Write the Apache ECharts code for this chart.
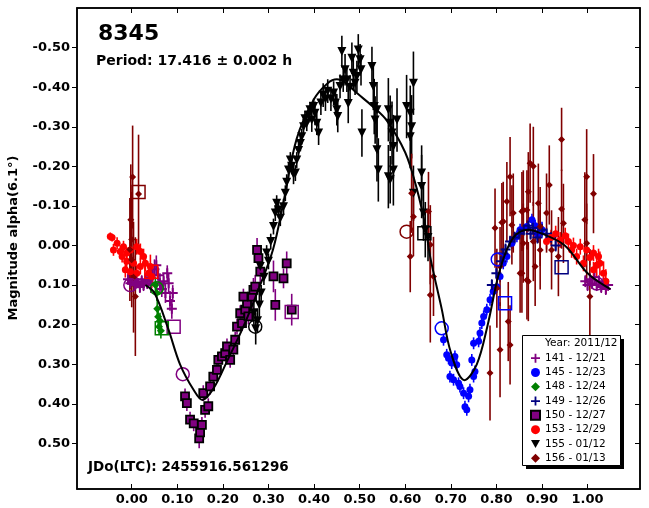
<!DOCTYPE html>
<html><head><meta charset="utf-8">
<script src="https://cdn.jsdelivr.net/npm/echarts@6/dist/echarts.min.js"></script>
<style>html,body{margin:0;padding:0;background:#fff}#c{width:649px;height:508px}</style>
</head><body><div id="c"></div>
<script>
// ---- data: [phase, magnitude, error] ----
const xTicks = [0,0.1,0.2,0.3,0.4,0.5,0.6,0.7,0.8,0.9,1.0];
const yTicks = [-0.5,-0.4,-0.3,-0.2,-0.1,0,0.1,0.2,0.3,0.4,0.5];
const legendNames = ['141 - 12/21','145 - 12/23','148 - 12/24','149 - 12/26','150 - 12/27','153 - 12/29','155 - 01/12','156 - 01/13'];

const s141 = [[-0.008,0.085,0.015],[-0.003,0.095,0.015],[0.002,0.09,0.012],[0.006,0.1,0.015],[0.01,0.085,0.015],[0.014,0.095,0.012],[0.018,0.105,0.015],[0.022,0.09,0.015],[0.026,0.1,0.015],[0.03,0.085,0.015],[0.034,0.095,0.015],[0.038,0.08,0.02],[0.042,0.1,0.02],[0.046,0.075,0.02],[0.05,0.06,0.025],[0.054,0.05,0.025],[0.058,0.075,0.02],[0.062,0.095,0.025],[0.066,0.11,0.02],[0.07,0.09,0.02],[0.074,0.12,0.025],[0.078,0.07,0.02],[0.081,0.095,0.025],[0.084,0.14,0.025],[0.088,0.16,0.025],[0.09,0.12,0.02],
  [0.995,0.09,0.015],[1.0,0.1,0.015],[1.005,0.085,0.015],[1.01,0.095,0.015],[1.015,0.08,0.015],[1.02,0.1,0.015],[1.025,0.09,0.015],[1.03,0.105,0.015],[1.035,0.095,0.015],[1.04,0.11,0.015],[1.045,0.1,0.015]];
const s145 = [[0.684,0.238,0.015],[0.691,0.276,0.015],[0.695,0.285,0.015],[0.702,0.297,0.015],[0.709,0.28,0.015],[0.713,0.301,0.015],[0.698,0.331,0.015],[0.706,0.339,0.015],[0.717,0.348,0.015],[0.72,0.356,0.015],[0.728,0.373,0.015],[0.731,0.407,0.015],[0.735,0.415,0.015],[0.739,0.381,0.015],[0.742,0.364,0.015],[0.75,0.331,0.015],[0.753,0.318,0.015],[0.746,0.289,0.015],[0.75,0.247,0.015],[0.761,0.242,0.015],[0.764,0.221,0.015],[0.768,0.196,0.015],[0.772,0.179,0.015],[0.779,0.162,0.015],[0.786,0.137,0.015],[0.793,0.116,0.015],[0.801,0.104,0.015],[0.808,0.078,0.015],[0.815,0.045,0.015],[0.823,0.028,0.015],[0.834,-0.006,0.015],[0.845,-0.023,0.015],[0.852,-0.04,0.015],[0.867,-0.048,0.015],[0.878,-0.065,0.015],[0.885,-0.05,0.015],[0.89,-0.03,0.015],[0.9,-0.04,0.02]];
const s148 = [[0.052,0.1,0.02],[0.055,0.12,0.02],[0.056,0.16,0.02],[0.058,0.18,0.025],[0.06,0.205,0.02],[0.062,0.19,0.02],[0.064,0.215,0.02]];
const s149 = [[0.79,0.1,0.015],[0.8,0.07,0.015],[0.81,0.04,0.015],[0.815,0.02,0.015],[0.82,0.01,0.015],[0.83,-0.01,0.015],[0.84,-0.02,0.015],[0.85,-0.03,0.015],[0.86,-0.04,0.015],[0.87,-0.05,0.015],[0.875,-0.03,0.015],[0.88,-0.045,0.015],[0.89,-0.02,0.015],[0.9,-0.04,0.015],[0.91,-0.03,0.015],[0.92,-0.02,0.015],[0.93,0.0,0.015]];
const s150 = [[0.117,0.381,0.02],[0.121,0.398,0.02],[0.128,0.44,0.02],[0.136,0.449,0.02],[0.148,0.487,0.025],[0.15,0.472,0.02],[0.154,0.453,0.02],[0.161,0.415,0.02],[0.168,0.406,0.02],[0.157,0.373,0.02],[0.172,0.356,0.02],[0.179,0.331,0.02],[0.187,0.314,0.02],[0.19,0.289,0.02],[0.198,0.28,0.02],[0.205,0.272,0.02],[0.209,0.255,0.02],[0.216,0.289,0.02],[0.223,0.263,0.02],[0.227,0.238,0.02],[0.231,0.205,0.02],[0.238,0.171,0.02],[0.242,0.196,0.02],[0.249,0.162,0.02],[0.253,0.146,0.02],[0.256,0.179,0.02],[0.245,0.129,0.02],[0.264,0.129,0.03],[0.267,0.112,0.03],[0.271,0.104,0.03],[0.275,0.011,0.03],[0.278,0.032,0.03],[0.282,0.066,0.03],[0.311,0.078,0.04],[0.333,0.083,0.025],[0.315,0.15,0.04],[0.34,0.045,0.03],[0.351,0.162,0.04]];
const s153 = [[-0.047,-0.023,0.01],[-0.043,-0.02,0.01],[-0.04,0.011,0.015],[-0.032,-0.006,0.015],[-0.025,0.015,0.015],[-0.021,0.028,0.015],[-0.018,0.003,0.015],[-0.014,0.061,0.02],[-0.011,0.019,0.015],[-0.011,0.04,0.02],[-0.003,0.011,0.02],[-0.003,0.066,0.02],[0.004,0.045,0.02],[0.011,0.003,0.02],[0.011,0.07,0.02],[0.019,0.015,0.02],[0.019,0.053,0.02],[0.026,0.028,0.02],[0.03,0.045,0.02],[0.037,0.07,0.02],[0.041,0.053,0.03],[0.044,0.078,0.03],
  [0.91,-0.01,0.02],[0.92,-0.02,0.02],[0.93,-0.03,0.02],[0.94,-0.014,0.02],[0.951,-0.025,0.02],[0.958,-0.01,0.02],[0.965,0.011,0.02],[0.969,0.0,0.02],[0.976,0.028,0.02],[0.984,0.003,0.02],[0.991,0.045,0.02],[0.998,0.011,0.02],[1.005,0.03,0.02],[1.013,0.019,0.02],[1.013,0.061,0.02],[1.02,0.05,0.03],[1.024,0.028,0.02],[1.027,0.045,0.03],[1.035,0.07,0.03],[1.04,0.09,0.03]];
const s155 = [[0.268,0.17,0.03],[0.272,0.21,0.04],[0.276,0.19,0.03],[0.28,0.15,0.03],[0.284,0.12,0.02],[0.282,0.053,0.02],[0.29,0.08,0.02],[0.296,0.019,0.02],[0.3,0.04,0.02],[0.305,-0.01,0.02],[0.311,-0.048,0.02],[0.315,-0.082,0.02],[0.318,-0.107,0.02],[0.322,-0.09,0.02],[0.326,-0.069,0.02],[0.333,-0.098,0.02],[0.337,-0.132,0.02],[0.34,-0.16,0.02],[0.344,-0.191,0.02],[0.348,-0.216,0.02],[0.351,-0.2,0.02],[0.355,-0.18,0.025],[0.359,-0.183,0.02],[0.362,-0.216,0.02],[0.366,-0.24,0.02],[0.37,-0.258,0.02],[0.373,-0.275,0.02],[0.377,-0.3,0.02],[0.38,-0.32,0.02],[0.384,-0.309,0.02],[0.388,-0.33,0.02],[0.391,-0.343,0.02],[0.395,-0.317,0.03],[0.399,-0.351,0.02],[0.402,-0.334,0.03],[0.406,-0.309,0.03],[0.41,-0.284,0.03],[0.415,-0.36,0.03],[0.42,-0.38,0.03],[0.425,-0.37,0.03],[0.43,-0.39,0.03],
  [0.437,-0.37,0.03],[0.443,-0.385,0.03],[0.447,-0.36,0.03],[0.45,-0.343,0.04],[0.452,-0.326,0.04],[0.457,-0.402,0.03],[0.461,-0.49,0.04],[0.464,-0.418,0.03],[0.468,-0.444,0.04],[0.472,-0.418,0.03],[0.475,-0.359,0.05],[0.479,-0.4,0.03],[0.483,-0.473,0.04],[0.486,-0.435,0.04],[0.49,-0.41,0.03],[0.494,-0.427,0.04],[0.497,-0.494,0.04],[0.501,-0.469,0.04],[0.503,-0.444,0.04],[0.505,-0.284,0.06],
  [0.527,-0.452,0.05],[0.53,-0.402,0.06],[0.532,-0.351,0.07],[0.534,-0.317,0.06],[0.538,-0.343,0.07],[0.538,-0.242,0.08],[0.541,-0.191,0.08],[0.563,-0.343,0.08],[0.567,-0.309,0.07],[0.571,-0.284,0.08],[0.574,-0.25,0.08],[0.563,-0.174,0.08],[0.574,-0.191,0.09],[0.582,-0.317,0.08],[0.567,-0.166,0.06],[0.603,-0.351,0.08],[0.611,-0.334,0.07],[0.614,-0.3,0.08],[0.618,-0.41,0.08],[0.611,-0.275,0.08],[0.618,-0.132,0.07],[0.636,-0.183,0.07],[0.636,-0.149,0.08],[0.64,-0.082,0.07],[0.644,-0.04,0.07],[0.65,-0.02,0.06]];
const s156 = [[0.002,-0.173,0.13],[0.015,-0.13,0.15],[-0.002,-0.065,0.14],[0.0,-0.015,0.12],[0.0,0.036,0.12],[0.008,0.129,0.15],[0.004,0.08,0.14],[-0.004,0.01,0.13],
  [0.611,0.028,0.09],[0.614,-0.132,0.1],[0.618,-0.073,0.1],[0.651,-0.086,0.1],[0.655,-0.002,0.1],[0.662,0.078,0.1],[0.655,0.125,0.12],
  [0.786,0.322,0.12],[0.83,0.251,0.1],[0.826,0.192,0.1],[0.808,0.263,0.12],[0.801,0.108,0.1],[0.808,0.053,0.1],[0.797,-0.044,0.1],[0.815,-0.061,0.1],[0.823,-0.111,0.1],[0.837,-0.082,0.1],[0.859,-0.09,0.1],[0.87,-0.136,0.1],[0.852,0.07,0.1],[0.867,0.087,0.1],
  [0.943,-0.268,0.08],[0.83,-0.174,0.1],[0.874,-0.208,0.1],[0.881,-0.2,0.1],[0.916,-0.153,0.1],[0.998,-0.174,0.12],[1.013,-0.131,0.1],[0.812,-0.058,0.1],[0.856,-0.086,0.1],[0.867,-0.09,0.1],[0.892,-0.107,0.1],[0.91,-0.082,0.1],[0.943,-0.092,0.1],[0.947,-0.056,0.1],[0.834,-0.052,0.1],[0.859,-0.006,0.1],[0.881,-0.01,0.1],[0.896,0.011,0.1],[0.921,0.011,0.1],[0.936,0.028,0.1],[0.856,0.07,0.1],[0.87,0.091,0.1],[0.885,0.053,0.1],[0.994,-0.065,0.12],[0.998,-0.006,0.1],[1.005,0.129,0.12],[0.896,-0.048,0.1]];
// large open markers per session: [phase, magnitude]
const openCircles = {'#800080':[[-0.003,0.1],[0.112,0.325],[1.02,0.096]],'#008000':[[0.055,0.108]],'#800000':[[0.603,-0.035]],'#0000ff':[[0.68,0.209],[0.803,0.035]],'#000000':[[0.271,0.205]]};
const openSquares = {'#800080':[[0.092,0.205],[0.351,0.168]],'#008000':[[0.066,0.209]],'#800000':[[0.015,-0.135]],'#ff0000':[[0.043,0.066]],'#000000':[[0.642,-0.031]],'#0000ff':[[0.819,0.146]],'#000080':[[0.943,0.055]]};
// fitted Fourier curve
const fitX = [0.03,0.05,0.08,0.106,0.136,0.155,0.18,0.21,0.245,0.28,0.31,0.333,0.362,0.4,0.43,0.45,0.47,0.494,0.53,0.56,0.6,0.625,0.644,0.655,0.68,0.7,0.73,0.757,0.78,0.808,0.837,0.87,0.9,0.95,1.0,1.05];
const fitY = [0.1,0.12,0.21,0.3,0.365,0.39,0.36,0.29,0.205,0.105,0.01,-0.11,-0.27,-0.37,-0.41,-0.42,-0.41,-0.385,-0.35,-0.315,-0.235,-0.145,-0.05,0.03,0.16,0.27,0.34,0.3,0.205,0.06,-0.02,-0.04,-0.03,0.0,0.07,0.11];

const FONT = '"DejaVu Sans", sans-serif';
const PLUS = 'path://M4,0H6V4H10V6H6V10H4V6H0V4H4Z';
const TRI = 'path://M0,0L10,0L5,9Z';
const sessions = [
  {name:legendNames[0], data:s141, color:'#800080', symbol:PLUS, size:10},
  {name:legendNames[1], data:s145, color:'#0000ff', symbol:'circle', size:7},
  {name:legendNames[2], data:s148, color:'#008000', symbol:'diamond', size:8},
  {name:legendNames[3], data:s149, color:'#000080', symbol:PLUS, size:10},
  {name:legendNames[4], data:s150, color:'#800080', symbol:'rect', size:8, border:'#000'},
  {name:legendNames[5], data:s153, color:'#ff0000', symbol:'circle', size:7},
  {name:legendNames[6], data:s155, color:'#000000', symbol:TRI, size:9},
  {name:legendNames[7], data:s156, color:'#800000', symbol:'diamond', size:7}
];

const series = [];
sessions.forEach((s, i) => {
  series.push({
    type:'custom', name:s.name+' err', data:s.data, clip:true, silent:true, z:2+i*0.01,
    encode:{x:0,y:1},
    renderItem:(params, api) => {
      const x = api.value(0), y = api.value(1), e = api.value(2);
      const p1 = api.coord([x, y-e]), p2 = api.coord([x, y+e]);
      return {type:'line', shape:{x1:p1[0],y1:p1[1],x2:p2[0],y2:p2[1]}, style:{stroke:s.color, lineWidth:1.6}};
    }
  });
  series.push({
    type:'scatter', name:s.name, data:s.data.map(d=>[d[0],d[1]]), symbol:s.symbol, symbolSize:s.size,
    itemStyle:{color:s.color, opacity:1, borderColor:s.border||s.color, borderWidth:s.border?1.8:0},
    silent:true, z:3+i*0.01, clip:true
  });
});
Object.keys(openCircles).forEach(c => series.push({type:'scatter', data:openCircles[c], symbol:'circle', symbolSize:13, silent:true, z:4,
  itemStyle:{color:'rgba(0,0,0,0)', borderColor:c, borderWidth:1.5, opacity:1}}));
Object.keys(openSquares).forEach(c => series.push({type:'scatter', data:openSquares[c], symbol:'rect', symbolSize:13, silent:true, z:4,
  itemStyle:{color:'rgba(0,0,0,0)', borderColor:c, borderWidth:1.5, opacity:1}}));
series.push({type:'line', data:fitX.map((x,i)=>[x,fitY[i]]), smooth:0.35, showSymbol:false, symbol:'none', silent:true, z:5,
  lineStyle:{color:'#000', width:2}});

const legendData = sessions.map(s => ({name:s.name, icon:s.symbol,
  itemStyle:{color:s.color, borderColor:s.border||s.color, borderWidth:s.border?2:0}}));

const axisBase = {type:'value', splitLine:{show:false}, axisLine:{show:true, onZero:false, lineStyle:{color:'#000', width:1.5}}};
const chart = echarts.init(document.getElementById('c'), null, {renderer:'canvas'});
chart.setOption({
  animation:false,
  backgroundColor:'#fff',
  grid:{left:77, right:9, top:8, bottom:19, show:true, borderColor:'#000', borderWidth:1.5},
  xAxis:[
    Object.assign({}, axisBase, {min:-0.12, max:1.115, position:'bottom',
      axisTick:{show:true, inside:true, length:5, customValues:xTicks, lineStyle:{color:'#000', width:1}},
      axisLabel:{show:true, customValues:xTicks, formatter:v=>v.toFixed(2), color:'#000', fontFamily:FONT, fontWeight:'bold', fontSize:13, margin:4}}),
    Object.assign({}, axisBase, {min:-0.12, max:1.115, position:'top',
      axisTick:{show:true, inside:true, length:5, customValues:xTicks, lineStyle:{color:'#000', width:1}},
      axisLabel:{show:false}})
  ],
  yAxis:[
    Object.assign({}, axisBase, {min:-0.60, max:0.615, inverse:true, position:'left',
      axisTick:{show:true, inside:false, length:5, customValues:yTicks, lineStyle:{color:'#000', width:1}},
      axisLabel:{show:true, customValues:yTicks, formatter:v=>v.toFixed(2), color:'#000', fontFamily:FONT, fontWeight:'bold', fontSize:13, margin:7}}),
    Object.assign({}, axisBase, {min:-0.60, max:0.615, inverse:true, position:'right',
      axisTick:{show:true, inside:true, length:5, customValues:yTicks, lineStyle:{color:'#000', width:1}},
      axisLabel:{show:false}})
  ],
  legend:{show:true, orient:'vertical', left:522, top:335, data:legendData, z:20,
    padding:[16,12,0,8], itemGap:0, itemWidth:9, itemHeight:9, selectedMode:false,
    textStyle:{color:'#000', fontFamily:FONT, fontSize:10.5, lineHeight:14.3}},
  graphic:[
    {type:'rect', left:526, top:339, shape:{width:98, height:130}, style:{fill:'#000'}, z:15},
    {type:'rect', left:522, top:335, shape:{width:98, height:130}, style:{fill:'#fff', stroke:'#000', lineWidth:1}, z:16},
    {type:'text', left:545, top:338, style:{text:'Year: 2011/12', font:'10.5px "DejaVu Sans", sans-serif', fill:'#000'}, z:30},
    {type:'text', left:98, top:23, style:{text:'8345', font:'bold 22px "DejaVu Sans", sans-serif', fill:'#000'}, z:30},
    {type:'text', left:96, top:54, style:{text:'Period: 17.416 \u00b1 0.002 h', font:'bold 14px "DejaVu Sans", sans-serif', fill:'#000'}, z:30},
    {type:'text', left:88, top:460, style:{text:'JDo(LTC): 2455916.561296', font:'bold 13.5px "DejaVu Sans", sans-serif', fill:'#000'}, z:30},
    {type:'text', x:14, y:238, rotation:Math.PI/2, style:{text:'Magnitude alpha(6.1\u00b0)', font:'bold 13px "DejaVu Sans", sans-serif', fill:'#000', align:'center', verticalAlign:'middle'}, z:30}
  ],
  series:series
});
</script></body></html>
